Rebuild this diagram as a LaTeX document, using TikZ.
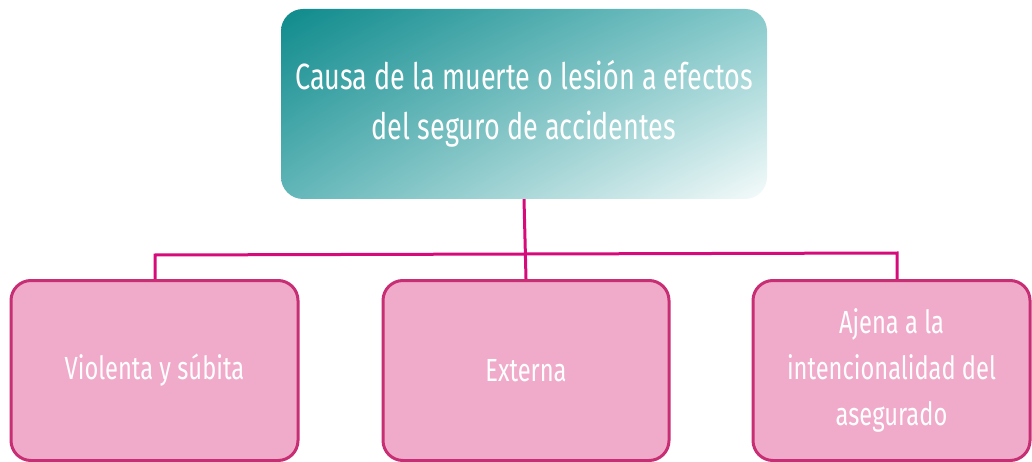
\documentclass[tikz,border=0pt]{standalone}
\usepackage{fontspec}
\usetikzlibrary{shadings}
\setmainfont[FakeStretch=0.74]{Fira Sans}
\definecolor{tealA}{HTML}{0E8A8C}
\definecolor{tealB}{HTML}{86C9CB}
\definecolor{tealC}{HTML}{62B6B8}
\definecolor{tealD}{HTML}{F6FBFB}
\definecolor{pinkfill}{HTML}{F0ABCB}
\definecolor{pinkborder}{HTML}{C72E73}
\definecolor{linkpink}{HTML}{D60A7B}
\tikzset{
  topbox/.style={rounded corners=22pt, minimum width=486pt, minimum height=190pt,
    upper left=tealA, upper right=tealB, lower left=tealC, lower right=tealD,
    text=white, align=center, font=\fontsize{36.5}{50}\selectfont, inner sep=0pt},
  leafbox/.style={rounded corners=20pt, draw=pinkborder, line width=3pt, fill=pinkfill,
    minimum height=180pt, text=white, align=center, font=\fontsize{32}{46}\selectfont, inner sep=0pt},
  link/.style={draw=linkpink, line width=3pt}
}
\begin{document}
\begin{tikzpicture}[x=1pt,y=-1pt]
\useasboundingbox (0,0) rectangle (1032,462);
\node[topbox] (top) at (524,104) {Causa de la muerte o lesión a efectos\\del seguro de accidentes};
\node[leafbox, minimum width=287pt] (l) at (154.5,370.5) {Violenta y súbita};
\node[leafbox, minimum width=286pt] (m) at (526,370.5) {Externa};
\node[leafbox, minimum width=277pt] (r) at (891.5,370.5) {Ajena a la\\intencionalidad del\\asegurado};
\coordinate (jl) at (155,255);
\coordinate (jr) at (897,253);
\draw[link] (top.south) -- (m.north);
\draw[link] (l.north -| jl) -- (jl) -- (jr) -- (r.north -| jr);
\end{tikzpicture}
\end{document}
